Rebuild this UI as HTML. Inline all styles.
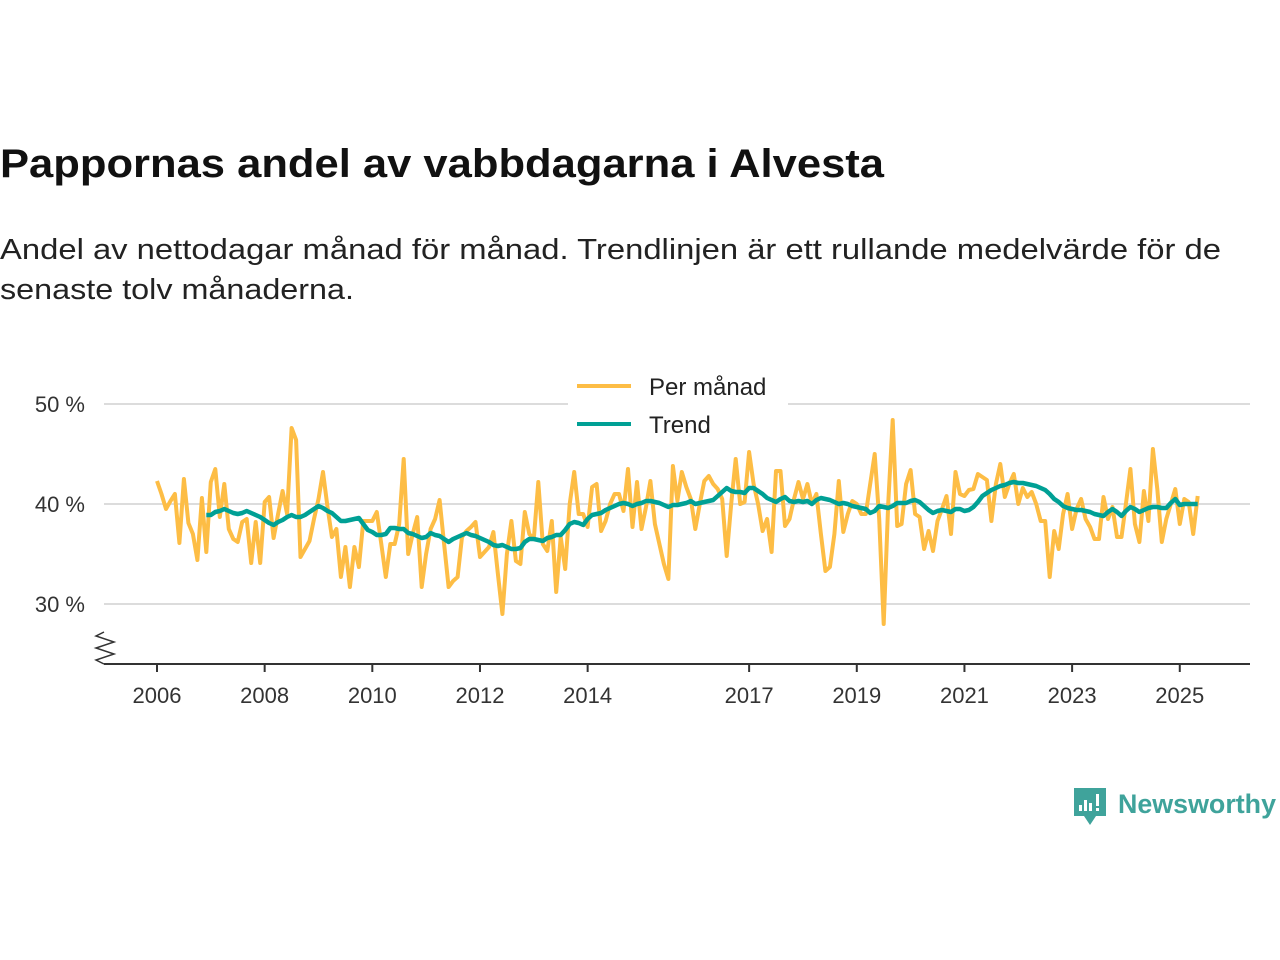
<!DOCTYPE html>
<html><head><meta charset="utf-8"><style>
html,body{margin:0;padding:0;background:#fff;width:1280px;height:960px;overflow:hidden}
svg{display:block;font-family:"Liberation Sans","DejaVu Sans",sans-serif}
</style></head><body>
<svg id="chart" width="1280" height="960" viewBox="0 0 1280 960">
<text x="0" y="177" font-size="40" font-weight="bold" fill="#111" textLength="884" lengthAdjust="spacingAndGlyphs">Pappornas andel av vabbdagarna i Alvesta</text>
<text x="0" y="259" font-size="29" fill="#222" textLength="1221" lengthAdjust="spacingAndGlyphs">Andel av nettodagar månad för månad. Trendlinjen är ett rullande medelvärde för de</text>
<text x="0" y="299" font-size="29" fill="#222" textLength="354" lengthAdjust="spacingAndGlyphs">senaste tolv månaderna.</text>
<g id="grid"></g>
<g id="yticks"></g>
<g id="xaxis"></g>
<path d="M104 632 L96 636 L114 642 L96 648 L114 654 L96 660 L104 664" fill="none" stroke="#333" stroke-width="1.5"/>
<g id="series"></g>
<g>
<rect x="568" y="366" width="220" height="78" fill="#fff"/>
<line x1="577" y1="386" x2="631" y2="386" stroke="#fdbd45" stroke-width="4"/>
<text x="649" y="395" font-size="24" fill="#222">Per månad</text>
<line x1="577" y1="424" x2="631" y2="424" stroke="#00a095" stroke-width="4"/>
<text x="649" y="433" font-size="24" fill="#222">Trend</text>
</g>
<g>
<path d="M1074 788 h32 v28 h-10 l-6 9 l-6 -9 h-10 z" fill="#3fa39b"/>
<rect x="1079" y="805" width="3" height="6" fill="#fff"/><rect x="1084" y="800" width="3" height="11" fill="#fff"/><rect x="1089" y="803" width="3" height="8" fill="#fff"/><rect x="1096" y="794" width="3" height="12" fill="#fff"/><rect x="1096" y="808" width="3" height="3" fill="#fff"/>
<text x="1118" y="813" font-size="27" font-weight="bold" fill="#3fa39b" textLength="158" lengthAdjust="spacingAndGlyphs">Newsworthy</text>
</g>
</svg>
<script>
const startYear = 2006;
const perManad = [
42.3,41,39.5,40.3,41,36.1,42.5,38.1,37,34.4,40.6,35.2,
42.2,43.5,38.7,42,37.5,36.5,36.2,38.2,38.5,34.1,38.2,34.1,
40.2,40.7,36.6,39,41.3,39,47.6,46.4,34.7,35.5,36.3,38.5,
40.5,43.2,39.7,36.7,37.5,32.7,35.7,31.7,35.7,33.7,38.3,38.3,
38.3,39.2,36,32.7,36,36,38,44.5,35,37,38.7,31.7,
35,37.5,38.5,40.4,36,31.7,32.3,32.7,36.7,37.3,37.7,38.2,
34.7,35.2,35.7,37.2,33,29,35,38.3,34.3,34,39.2,37,
36.5,42.2,36,35.3,38.3,31.2,36.7,33.5,40,43.2,39,39,
37.7,41.7,42,37.3,38.3,40,41,41,39.3,43.5,37.7,42.2,
37.5,39.7,42.3,38,36,34,32.5,43.8,40.3,43.2,41.7,40.5,
37.5,40,42.3,42.8,42,41.5,40.5,34.8,40,44.5,40,40.2,
45.2,42,40,37.3,38.5,35.2,43.3,43.3,37.8,38.5,40.5,42.2,
40.5,42,40,41,37,33.3,33.7,37,42.3,37.2,39,40.3,
40,39,39,42,45,38.5,28,40,48.4,37.8,38,42,
43.4,39,38.7,35.5,37.3,35.3,38.3,39.5,40.8,37,43.2,41,
40.8,41.4,41.5,43,42.7,42.4,38.3,42,44,40.7,42,43,
40,41.6,40.7,41.2,40,38.3,38.3,32.7,37.3,35.5,39,41,
37.5,39.5,40.5,38.5,37.7,36.5,36.5,40.7,38.5,39.7,36.7,36.7,
40,43.5,38,36.2,41.3,38.3,45.5,41.5,36.2,38.5,40,41.5,
38,40.5,40.2,37,40.8];
const trendStart = 11;
const trend = [38.9,
38.9,39.2,39.3,39.5,39.3,39.1,39.0,39.1,39.3,39.1,38.9,38.7,
38.4,38.1,37.9,38.2,38.4,38.7,38.9,38.7,38.7,38.9,39.2,39.5,
39.8,39.6,39.3,39.1,38.7,38.3,38.3,38.4,38.5,38.6,38.0,37.4,
37.2,36.9,36.9,37.0,37.6,37.6,37.5,37.5,37.1,37.0,36.8,36.6,
36.7,37.1,36.9,36.8,36.5,36.2,36.5,36.7,36.9,37.1,36.9,36.8,
36.6,36.4,36.2,35.9,35.8,35.9,35.7,35.5,35.5,35.6,36.2,36.5,
36.5,36.4,36.3,36.6,36.7,36.9,36.9,37.4,38.0,38.2,38.1,37.9,
38.5,38.9,39.0,39.1,39.4,39.6,39.8,40.0,40.1,40.0,39.8,40.0,
40.1,40.3,40.3,40.2,40.1,39.9,39.7,39.9,39.9,40.0,40.1,40.3,
40.0,40.1,40.2,40.3,40.4,40.8,41.2,41.6,41.3,41.2,41.2,41.1,
41.6,41.6,41.3,41.0,40.6,40.4,40.2,40.5,40.7,40.3,40.2,40.3,
40.2,40.3,40.0,40.4,40.6,40.5,40.4,40.2,40.0,40.1,40.0,39.8,
39.7,39.6,39.5,39.1,39.3,39.8,39.7,39.6,39.8,40.1,40.1,40.1,
40.3,40.4,40.2,39.8,39.4,39.1,39.3,39.4,39.3,39.2,39.5,39.5,
39.3,39.4,39.7,40.2,40.8,41.1,41.4,41.6,41.8,41.9,42.1,42.2,
42.1,42.1,42.0,41.9,41.8,41.6,41.4,41.0,40.5,40.2,39.8,39.6,
39.5,39.4,39.4,39.3,39.2,39.0,38.9,38.8,39.2,39.5,39.2,38.8,
39.3,39.7,39.5,39.2,39.4,39.6,39.7,39.7,39.6,39.6,40.1,40.5,
39.9,40.0,40.0,40.0,40.0];
const yTicks = [30,40,50];
const yTickLabels = ["30 %","40 %","50 %"];
const xTicks = [2006,2008,2010,2012,2014,2017,2019,2021,2023,2025];

const NS = "http://www.w3.org/2000/svg";
function xScale(year){ return 157 + (year - 2006) * 53.83; }
function xMonth(m){ return xScale(startYear + m / 12); }
function yScale(v){ return 504 - (v - 40) * 10; }
function mk(tag, attrs, parent){ const e = document.createElementNS(NS, tag); for (const k in attrs) e.setAttribute(k, attrs[k]); parent.appendChild(e); return e; }

const grid = document.getElementById('grid');
const yg = document.getElementById('yticks');
yTicks.forEach((t, i) => {
  const l = mk('line', {x1:104, x2:1250, y1:yScale(t), y2:yScale(t), stroke:'#dcdcdc', 'stroke-width':2}, grid);
  
  
  const tx = mk('text', {x:85, y:yScale(t) + 8, 'text-anchor':'end', 'font-size':22, fill:'#333'}, yg);
  tx.textContent = yTickLabels[i];
  
  
});
const xg = document.getElementById('xaxis');
const ax = mk('line', {x1:104, x2:1250, y1:664, y2:664, stroke:'#333', 'stroke-width':2}, xg);


xTicks.forEach(t => {
  const tk = mk('line', {x1:xScale(t), x2:xScale(t), y1:664, y2:672, stroke:'#333', 'stroke-width':2}, xg);
  
  
  const tx = mk('text', {x:xScale(t), y:703, 'text-anchor':'middle', 'font-size':22, fill:'#333'}, xg);
  tx.textContent = t;
  
  
});
const sg = document.getElementById('series');
const p1 = mk('path', {d: perManad.map((v, i) => (i ? 'L' : 'M') + xMonth(i).toFixed(1) + ' ' + yScale(v).toFixed(1)).join(' '), fill:'none', stroke:'#fdbd45', 'stroke-width':4, 'stroke-linejoin':'round'}, sg);


const p2 = mk('path', {d: trend.map((v, i) => (i ? 'L' : 'M') + xMonth(i + trendStart).toFixed(1) + ' ' + yScale(v).toFixed(1)).join(' '), fill:'none', stroke:'#00a095', 'stroke-width':4.5, 'stroke-linejoin':'round'}, sg);


</script>
</body></html>
